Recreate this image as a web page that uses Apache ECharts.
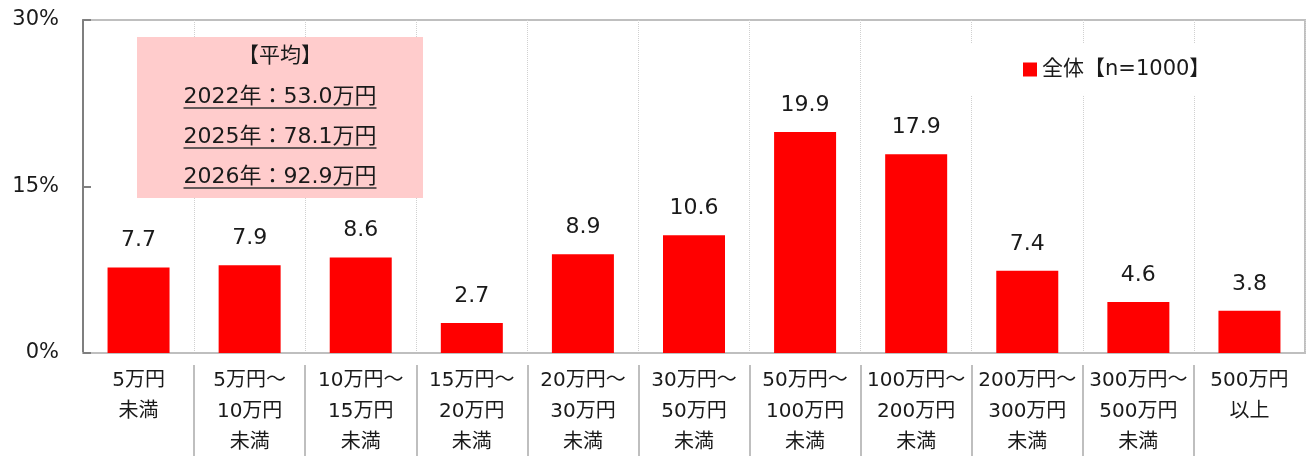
<!DOCTYPE html>
<html>
<head>
<meta charset="utf-8">
<script src="https://cdn.jsdelivr.net/npm/echarts@6/dist/echarts.min.js"></script>
<style>
html,body{margin:0;padding:0;background:#fff;}
#main{width:1311px;height:456px;}
</style>
</head>
<body>
<div id="main"></div>
<script>
// 金額区分
var categories = [
    '5万円\n未満',
    '5万円～\n10万円\n未満',
    '10万円～\n15万円\n未満',
    '15万円～\n20万円\n未満',
    '20万円～\n30万円\n未満',
    '30万円～\n50万円\n未満',
    '50万円～\n100万円\n未満',
    '100万円～\n200万円\n未満',
    '200万円～\n300万円\n未満',
    '300万円～\n500万円\n未満',
    '500万円\n以上'
];
// 全体【n=1000】 (%)
var values = [7.7, 7.9, 8.6, 2.7, 8.9, 10.6, 19.9, 17.9, 7.4, 4.6, 3.8];
var seriesName = '全体【n=1000】';
// 平均
var avgTitle = '【平均】';
var avgLines = ['2022年：53.0万円', '2025年：78.1万円', '2026年：92.9万円'];
var yTicks = [0, 15, 30];

var FONT = '"DejaVu Sans", "Noto Sans CJK JP", sans-serif';
var TEXT = '#1a1a1a';

// 下線の長さを測る
var ctx = document.createElement('canvas').getContext('2d');
function textWidth(str, size){
    ctx.font = size + 'px ' + FONT;
    return ctx.measureText(str).width;
}

var boxX = 137, boxY = 37, boxW = 286, boxH = 161;
var cx = boxX + boxW / 2;
var graphics = [{
    type: 'rect',
    shape: {x: boxX, y: boxY, width: boxW, height: boxH},
    style: {fill: '#ffcccc'},
    z: 10
}, {
    type: 'text',
    x: cx, y: 57,
    style: {text: avgTitle, font: '21px ' + FONT, fill: TEXT, align: 'center', verticalAlign: 'middle'},
    z: 11
}];
for (var i = 0; i < avgLines.length; i++) {
    var ty = 97 + i * 40;
    var w = textWidth(avgLines[i], 22);
    graphics.push({
        type: 'text',
        x: cx, y: ty,
        style: {text: avgLines[i], font: '22px ' + FONT, fill: TEXT, align: 'center', verticalAlign: 'middle'},
        z: 11
    });
    graphics.push({
        type: 'line',
        shape: {x1: cx - w / 2, y1: ty + 11, x2: cx + w / 2, y2: ty + 11},
        style: {stroke: '#333', lineWidth: 1.5},
        z: 11
    });
}

var myChart = echarts.init(document.getElementById('main'));
var option = {
    backgroundColor: '#fff',
    animation: false,
    textStyle: {fontFamily: FONT},
    legend: {
        data: [seriesName],
        left: 960, top: 43,
        padding: [16, 40, 15, 63],
        backgroundColor: '#fff',
        itemWidth: 14, itemHeight: 14,
        icon: 'rect',
        textStyle: {fontSize: 21, color: TEXT, fontFamily: FONT},
        z: 20
    },
    grid: [{
        left: 83, right: 6, top: 20, bottom: 103,
        show: true, borderColor: '#bfbfbf', borderWidth: 2,
        containLabel: false, outerBoundsMode: 'none'
    }, {
        left: 83, right: 6, top: 365, bottom: 0,
        containLabel: false, outerBoundsMode: 'none'
    }],
    xAxis: [{
        type: 'category',
        gridIndex: 0,
        data: categories,
        axisLine: {lineStyle: {color: '#bfbfbf', width: 2}},
        axisTick: {show: false},
        axisLabel: {fontSize: 20, color: TEXT, lineHeight: 31, margin: 12, interval: 0, fontFamily: FONT},
        splitLine: {show: true, lineStyle: {color: '#d0d0d0', type: 'dotted', width: 1}}
    }, {
        // 下のラベル区切り線
        type: 'category',
        gridIndex: 1,
        data: categories,
        axisLine: {show: false},
        axisTick: {show: false},
        axisLabel: {show: false},
        splitLine: {show: true, showMinLine: false, showMaxLine: false, lineStyle: {color: '#bfbfbf', width: 2}}
    }],
    yAxis: [{
        type: 'value',
        gridIndex: 0,
        min: yTicks[0], max: yTicks[yTicks.length - 1], interval: 15,
        axisLine: {show: true, lineStyle: {color: '#7f7f7f', width: 2}},
        axisTick: {show: true, inside: true, length: 8, lineStyle: {color: '#7f7f7f', width: 2}},
        axisLabel: {fontSize: 21, color: TEXT, margin: 24, formatter: '{value}%', fontFamily: FONT},
        splitLine: {show: false}
    }, {
        type: 'value',
        gridIndex: 1,
        show: false,
        splitLine: {show: false}
    }],
    series: [{
        name: seriesName,
        type: 'bar',
        xAxisIndex: 0, yAxisIndex: 0,
        data: values,
        barWidth: 62,
        itemStyle: {color: '#ff0000'},
        label: {
            show: true, position: 'top', distance: 16,
            fontSize: 22, color: TEXT, fontFamily: FONT,
            formatter: function(p){ return p.value.toFixed(1); }
        }
    }],
    graphic: graphics
};
myChart.setOption(option);
</script>
</body>
</html>
